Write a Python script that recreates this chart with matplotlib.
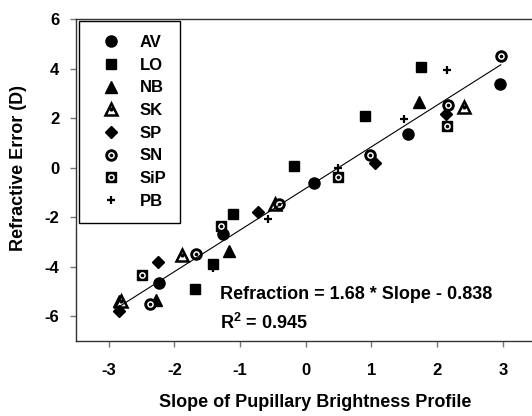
import numpy as np
import matplotlib
matplotlib.use('Agg')
import matplotlib.pyplot as plt

plt.rcParams['font.family'] = 'Liberation Sans'
plt.rcParams['font.weight'] = 'bold'
plt.rcParams['mathtext.fontset'] = 'custom'
plt.rcParams['mathtext.rm'] = 'Liberation Sans:bold'
plt.rcParams['mathtext.it'] = 'Liberation Sans:bold'
plt.rcParams['mathtext.bf'] = 'Liberation Sans:bold'

# slope of brightness profile (x) vs refractive error (y), one pair of lists per subject
av_x = [2.96, 1.56, 0.13, -1.26, -2.23]
av_y = [3.36, 1.35, -0.64, -2.66, -4.64]
lo_x = [1.75, 0.90, -0.18, -1.11, -1.41, -1.69]
lo_y = [4.05, 2.08, 0.07, -1.87, -3.91, -4.92]
nb_x = [1.73, -1.17, -2.28, -2.84]
nb_y = [2.66, -3.36, -5.35, -5.40]
sk_x = [2.41, -0.47, -1.89, -2.82]
sk_y = [2.46, -1.47, -3.54, -5.40]
sp_x = [2.14, 1.05, -0.73, -2.25, -2.85]
sp_y = [2.15, 0.20, -1.78, -3.81, -5.79]
sn_x = [2.97, 2.17, 0.98, -0.41, -1.67, -2.37]
sn_y = [4.52, 2.53, 0.51, -1.47, -3.49, -5.49]
sip_x = [2.15, 0.49, -1.29, -2.50]
sip_y = [1.68, -0.37, -2.35, -4.34]
pb_x = [2.15, 1.49, 0.49, -0.57, -1.42]
pb_y = [3.94, 1.96, -0.03, -2.09, -4.05]

# regression line
fit_slope = 1.68
fit_icept = -0.838
fit_r2 = 0.945
fit_xrange = [-2.84, 2.97]

x_ticks = [-3, -2, -1, 0, 1, 2, 3]
y_ticks = [-6, -4, -2, 0, 2, 4, 6]

fig = plt.figure(figsize=(5.32, 4.16), dpi=100)
W, H = 532.0, 416.0
# right edge of the axes lies just outside the picture
ax = fig.add_axes([76 / W, 1 - 341 / H, (535.6 - 76) / W, (341 - 19) / H])

handles = []
# plain filled markers
h = ax.plot(av_x, av_y, 'o', color='black', ms=8, ls='none')
handles.append(h[0])
h = ax.plot(lo_x, lo_y, 's', color='black', ms=7.5, ls='none')
handles.append(h[0])
h = ax.plot(nb_x, nb_y, '^', color='black', ms=9, ls='none')
handles.append(h[0])
# open triangle with a dot
h1 = ax.plot(sk_x, sk_y, '^', mfc='white', mec='black', mew=1.8, ms=8.5, ls='none')
h2 = ax.plot(sk_x, sk_y, 'o', color='black', ms=2, ls='none')
handles.append((h1[0], h2[0]))
h = ax.plot(sp_x, sp_y, 'D', color='black', ms=6.5, ls='none')
handles.append(h[0])
# black circle with white ring and dot
h1 = ax.plot(sn_x, sn_y, 'o', color='black', ms=8, ls='none')
h2 = ax.plot(sn_x, sn_y, 'o', color='white', ms=3.8, ls='none')
h3 = ax.plot(sn_x, sn_y, 'o', color='black', ms=1.6, ls='none')
handles.append((h1[0], h2[0], h3[0]))
# black square with white ring and dot
h1 = ax.plot(sip_x, sip_y, 's', color='black', ms=7.2, ls='none')
h2 = ax.plot(sip_x, sip_y, 'o', color='white', ms=3.8, ls='none')
h3 = ax.plot(sip_x, sip_y, 'o', color='black', ms=1.6, ls='none')
handles.append((h1[0], h2[0], h3[0]))
h = ax.plot(pb_x, pb_y, '+', color='black', ms=6, mew=1.6, ls='none')
handles.append(h[0])

labels = ['AV', 'LO', 'NB', 'SK', 'SP', 'SN', 'SiP', 'PB']

fx = np.array(fit_xrange)
ax.plot(fx, fit_slope * fx + fit_icept, color='black', lw=0.8, zorder=3)

ax.text(-1.31, -5.3, 'Refraction = %.2f * Slope - %.3f' % (fit_slope, fit_icept * -1),
        fontsize=13, fontweight='bold', ha='left', va='baseline')
ax.text(-1.31, -6.5, 'R$^{2}$ = %.3f' % fit_r2,
        fontsize=13, fontweight='bold', ha='left', va='baseline')

leg = ax.legend(handles, labels, loc='upper left',
                bbox_to_anchor=((79 - 76) / 459.6, 1 - 2 / 322.0),
                fontsize=12, frameon=True, fancybox=False, framealpha=1,
                edgecolor='black', borderpad=0.85, handlelength=2.1,
                handletextpad=0.68, labelspacing=0.46, borderaxespad=0)
leg.get_frame().set_linewidth(1.0)

ax.set_xlim(-3.5, 3.5)
ax.set_ylim(-7, 6)
ax.set_xticks(x_ticks)
ax.set_yticks(y_ticks)
ax.set_xticklabels([str(t) for t in x_ticks])
ax.set_yticklabels([str(t) for t in y_ticks])
ax.tick_params(direction='out', length=4, width=1, color='#777777',
               labelsize=12, labelcolor='black')
ax.tick_params(axis='x', pad=12)
ax.tick_params(axis='y', pad=8)
for s in ['left', 'bottom', 'top']:
    ax.spines[s].set_linewidth(1)
    ax.spines[s].set_color('#333333')
ax.spines['right'].set_visible(False)

ax.set_xlabel('Slope of Pupillary Brightness Profile', fontsize=13, fontweight='bold')
ax.set_ylabel('Refractive Error (D)', fontsize=13, fontweight='bold')
ax.xaxis.set_label_coords((315 - 76) / 459.6, -(394 - 341) / 322.0)
ax.yaxis.set_label_coords(-(76 - 27) / 459.6, (341 - 168) / 322.0)

fig.savefig('out.png', dpi=100)
